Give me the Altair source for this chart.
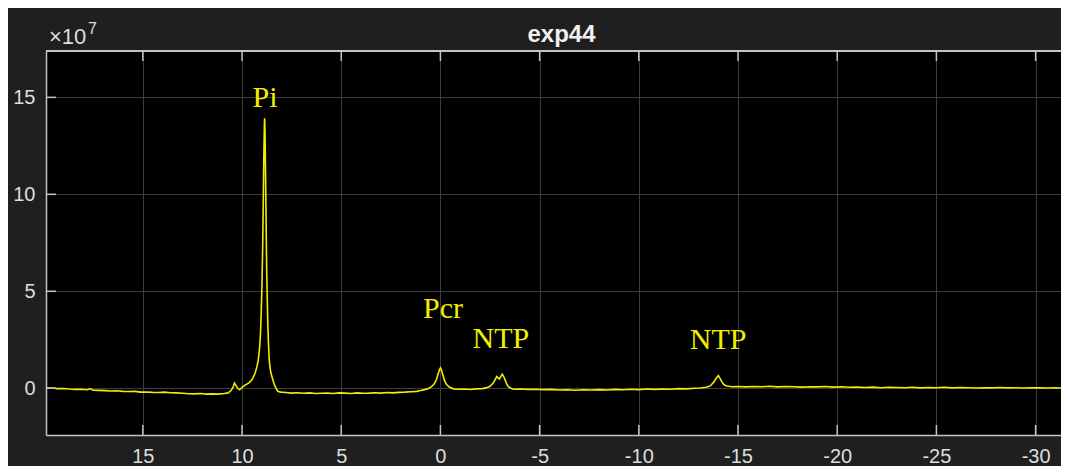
import altair as alt
import pandas as pd

# Chemical shift (ppm) and signal intensity (units of 1e7)
ppm = [
    19.88, 19.6, 19.3, 19.0, 18.7, 18.4, 18.1, 17.8, 17.65, 17.5,
    17.2, 16.9, 16.6, 16.3, 16.0, 15.7, 15.4, 15.1, 14.8, 14.5,
    14.2, 13.9, 13.6, 13.3, 13.0, 12.7, 12.4, 12.1, 11.8, 11.5,
    11.2, 10.9, 10.7, 10.55, 10.45, 10.38, 10.30, 10.22, 10.12, 10.02,
    9.90, 9.78, 9.65, 9.55, 9.45, 9.34, 9.25, 9.18, 9.12, 9.08,
    9.04, 9.00, 8.96, 8.93, 8.90, 8.87, 8.86, 8.84, 8.82, 8.79,
    8.76, 8.73, 8.70, 8.67, 8.63, 8.58, 8.52, 8.45, 8.38, 8.30,
    8.20, 8.05, 7.8, 7.5, 7.2, 6.9, 6.6, 6.3, 6.0, 5.7,
    5.4, 5.1, 4.8, 4.5, 4.2, 3.9, 3.6, 3.3, 3.0, 2.7,
    2.4, 2.1, 1.8, 1.5, 1.2, 1.0, 0.8, 0.6, 0.45, 0.30,
    0.20, 0.12, 0.05, 0.0, -0.05, -0.12, -0.20, -0.30, -0.45, -0.65,
    -0.9, -1.2, -1.5, -1.8, -2.1, -2.3, -2.5, -2.67, -2.76, -2.84,
    -2.92, -2.97, -3.04, -3.12, -3.2, -3.26, -3.34, -3.42, -3.55, -3.7,
    -4.0, -4.4, -4.8, -5.2, -5.6, -6.0, -6.4, -6.8, -7.2, -7.6,
    -8.0, -8.4, -8.8, -9.2, -9.6, -10.0, -10.4, -10.8, -11.2, -11.6,
    -12.0, -12.4, -12.8, -13.1, -13.4, -13.6, -13.8, -13.9, -14.01, -14.1,
    -14.18, -14.3, -14.43, -14.7, -15.0, -15.4, -15.8, -16.2, -16.6, -17.0,
    -17.4, -17.8, -18.2, -18.6, -19.0, -19.4, -19.8, -20.2, -20.6, -21.0,
    -21.4, -21.8, -22.2, -22.6, -23.0, -23.4, -23.8, -24.2, -24.6, -25.0,
    -25.4, -25.8, -26.2, -26.6, -27.0, -27.4, -27.8, -28.2, -28.6, -29.0,
    -29.4, -29.8, -30.2, -30.6, -31.0, -31.4, -31.8, -32.09,
]
intensity_e7 = [
    0.00, 0.01, -0.02, -0.01, -0.04, -0.06, -0.05, -0.08, -0.03, -0.10,
    -0.11, -0.12, -0.14, -0.13, -0.16, -0.17, -0.16, -0.20, -0.19, -0.21,
    -0.22, -0.20, -0.23, -0.24, -0.26, -0.28, -0.29, -0.27, -0.30, -0.29,
    -0.30, -0.27, -0.24, -0.12, 0.06, 0.27, 0.14, 0.00, -0.08, 0.02,
    0.12, 0.20, 0.28, 0.38, 0.52, 0.79, 1.10, 1.46, 2.00, 2.60,
    3.60, 5.10, 7.20, 9.50, 12.00, 13.70, 13.92, 13.20, 11.60, 8.90,
    6.40, 4.70, 3.30, 2.40, 1.50, 1.00, 0.70, 0.45, 0.22, 0.03,
    -0.16, -0.20, -0.22, -0.25, -0.23, -0.26, -0.24, -0.27, -0.26, -0.25,
    -0.27, -0.24, -0.25, -0.27, -0.24, -0.26, -0.25, -0.23, -0.25, -0.22,
    -0.24, -0.21, -0.20, -0.18, -0.16, -0.12, -0.07, -0.01, 0.08, 0.24,
    0.45, 0.72, 0.95, 1.05, 0.95, 0.70, 0.42, 0.20, 0.06, -0.03,
    -0.05, -0.04, -0.06, -0.03, -0.02, 0.02, 0.10, 0.28, 0.45, 0.60,
    0.52, 0.48, 0.60, 0.72, 0.58, 0.43, 0.22, 0.08, 0.00, -0.05,
    -0.04, -0.06, -0.05, -0.07, -0.06, -0.09, -0.08, -0.10, -0.08, -0.09,
    -0.07, -0.09, -0.06, -0.08, -0.05, -0.07, -0.04, -0.06, -0.04, -0.05,
    -0.02, -0.03, 0.00, 0.01, 0.05, 0.12, 0.34, 0.52, 0.65, 0.50,
    0.34, 0.18, 0.12, 0.08, 0.09, 0.07, 0.09, 0.08, 0.10, 0.07,
    0.09, 0.08, 0.06, 0.08, 0.07, 0.09, 0.06, 0.08, 0.05, 0.06,
    0.04, 0.06, 0.03, 0.05, 0.04, 0.03, 0.05, 0.02, 0.04, 0.03,
    0.05, 0.02, 0.04, 0.03, 0.01, 0.03, 0.02, 0.04, 0.02, 0.03,
    0.01, 0.02, 0.03, 0.01, 0.02, 0.01, 0.02, 0.02,
]
assert len(ppm) == len(intensity_e7)

x_ticks = [15, 10, 5, 0, -5, -10, -15, -20, -25, -30]
y_ticks = [0, 5, 10, 15]

peak_labels = ["Pi", "Pcr", "NTP", "NTP"]
peak_label_ppm = [8.84, -0.13, -3.05, -14.0]
peak_label_y = [14.52, 3.61, 2.06, 2.01]

chart_title = ["exp44"]
exponent_base = ["\u00d710"]
exponent_power = ["7"]

YEL = "#f2ee00"
AXC = "#c4c4c4"
LBL = "#dedede"
GRID = "#3c3c3c"
W, H = 1015, 384

xscale = alt.Scale(domain=[-31.28, 19.88], reverse=True, nice=False, zero=False)
yscale = alt.Scale(domain=[-2.41, 17.39], nice=False, zero=False)

x_axis = alt.Axis(
    values=x_ticks, title=None, grid=True, gridColor=GRID, gridWidth=1,
    domain=True, domainColor=AXC, domainWidth=1.5, ticks=False, tickSize=0,
    labelPadding=11, labelFont="Liberation Sans", labelFontSize=20, labelColor=LBL,
    labelExpr="datum.value < 0 ? '-' + abs(datum.value) : '' + datum.value")
y_axis = alt.Axis(
    values=y_ticks, title=None, grid=True, gridColor=GRID, gridWidth=1,
    domain=True, domainColor=AXC, domainWidth=1.5, ticks=False, tickSize=0,
    labelPadding=11, labelFont="Liberation Sans", labelFontSize=20, labelColor=LBL,
    labelExpr="'' + datum.value")

df = pd.DataFrame({"ppm": ppm, "v": intensity_e7})
line = alt.Chart(df).mark_line(color=YEL, strokeWidth=1.6, clip=True).encode(
    x=alt.X("ppm:Q", scale=xscale, axis=x_axis),
    y=alt.Y("v:Q", scale=yscale, axis=y_axis),
)

xt = pd.DataFrame({"t": x_ticks})
yt = pd.DataFrame({"t": y_ticks})
tick_x = alt.X("t:Q", scale=xscale, axis=x_axis)
tick_y = alt.Y("t:Q", scale=yscale, axis=y_axis)
bottom_ticks = alt.Chart(xt).mark_rule(color=AXC, strokeWidth=1.5).encode(
    x=tick_x, y=alt.value(H), y2=alt.value(H - 10))
top_ticks = alt.Chart(xt).mark_rule(color=AXC, strokeWidth=1.5).encode(
    x=tick_x, y=alt.value(0), y2=alt.value(10))
left_ticks = alt.Chart(yt).mark_rule(color=AXC, strokeWidth=1.5).encode(
    y=tick_y, x=alt.value(0), x2=alt.value(10))
top_border = alt.Chart(xt).mark_rule(color=AXC, strokeWidth=1.5).encode(
    x=alt.value(0), x2=alt.value(W), y=alt.value(0))

ann = pd.DataFrame({"label": peak_labels, "ppm": peak_label_ppm, "y": peak_label_y})
labels = alt.Chart(ann).mark_text(
    font="Liberation Serif", fontSize=30, color=YEL, baseline="alphabetic", align="center"
).encode(
    x=alt.X("ppm:Q", scale=xscale, axis=x_axis),
    y=alt.Y("y:Q", scale=yscale, axis=y_axis),
    text="label:N",
)

title_mark = alt.Chart(pd.DataFrame({"s": chart_title})).mark_text(
    font="Liberation Sans", fontSize=24, fontWeight="bold", color="#f0f0f0",
    align="center", baseline="alphabetic"
).encode(text="s:N", x=alt.value(515.5), y=alt.value(-9.3))
exp_base = alt.Chart(pd.DataFrame({"s": exponent_base})).mark_text(
    font="Liberation Sans", fontSize=22, color=LBL, align="left", baseline="alphabetic"
).encode(text="s:N", x=alt.value(3), y=alt.value(-7))
exp_pow = alt.Chart(pd.DataFrame({"s": exponent_power})).mark_text(
    font="Liberation Sans", fontSize=16, color=LBL, align="left", baseline="alphabetic"
).encode(text="s:N", x=alt.value(42), y=alt.value(-17))

chart = alt.layer(
    line, bottom_ticks, top_ticks, left_ticks, top_border, labels,
    title_mark, exp_base, exp_pow
).properties(
    width=W, height=H,
    autosize=alt.AutoSizeParams(type="none"),
    padding={"left": 38, "top": 43, "right": 0, "bottom": 31},
).configure(
    background="#1f1f1f"
).configure_view(
    fill="black", stroke="transparent", strokeWidth=0
)

chart.save("out.html", embed_options={"renderer": "svg", "actions": False})
